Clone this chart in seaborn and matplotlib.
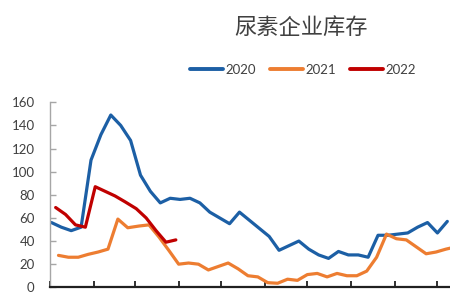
import matplotlib
matplotlib.use("Agg")
import matplotlib.pyplot as plt
import seaborn as sns
import pandas as pd

# ---- data ----
years = ["2020", "2021", "2022"]
start_dates = ["2020-01-02", "2021-01-07", "2022-01-05"]
stock_2020 = [56, 52, 49, 52, 110, 132, 149, 140, 127, 97, 83, 73, 77, 76, 77, 73, 65, 60, 55,
              65, 58, 51, 44, 32, 36, 40, 33, 28, 25, 31, 28, 28, 26, 45, 45, 46, 47, 52, 56, 47, 57]
stock_2021 = [27.6, 26, 26, 28.5, 30.5, 33, 59, 51.5, 53, 54, 43.6, 32, 20, 21, 20, 15, 18, 21, 16,
              10, 9, 4, 3.5, 7, 6, 11, 12, 9, 12, 10, 10, 14, 26, 46, 42, 41, 35, 29, 30.5, 33, 35]
stock_2022 = [69, 63, 54, 52, 87, 83, 79, 74, 68, 60, 49, 39, 41]
title = "尿素企业库存"
y_ticks = [0, 20, 40, 60, 80, 100, 120, 140, 160]
month_starts = ["2020-%02d-01" % m for m in range(1, 13)] + ["2021-01-01"]

series = [stock_2020, stock_2021, stock_2022]
colors = ["#1C5FA5", "#ED7D31", "#C00000"]

# ---- build long table: x = day of (common) year ----
base = pd.Timestamp("2020-01-01")
rows = []
for yr, sd, vals in zip(years, start_dates, series):
    dates = pd.date_range(sd, periods=len(vals), freq="7D")
    for d, v in zip(dates, vals):
        day = (d.replace(year=2020) - base).days
        rows.append({"day": day, "value": v, "year": yr})
df = pd.DataFrame(rows)

sns.set_theme(style="white")
plt.rcParams["font.family"] = ["Lato", "Noto Sans CJK SC", "DejaVu Sans"]

fig = plt.figure(figsize=(4.5, 3.0), dpi=100)
ax = fig.add_axes([50 / 450, 12.7 / 300, 517.5 / 450, 185 / 300])

sns.lineplot(data=df, x="day", y="value", hue="year", hue_order=years,
             palette=colors, linewidth=2.3, sort=False, ax=ax, legend=True)

handles, labels = ax.get_legend_handles_labels()
ax.get_legend().remove()

xt = [(pd.Timestamp(m) - base).days for m in month_starts]
ax.set_xlim(0, 366)
ax.set_ylim(0, 160)
ax.set_xticks(xt)
ax.set_yticks(y_ticks)
ax.set_xlabel("")
ax.set_ylabel("")

for s in ["top", "right"]:
    ax.spines[s].set_visible(False)
ax.spines["left"].set_color("#A6A6A6")
ax.spines["left"].set_linewidth(1.0)
ax.spines["bottom"].set_color("#202020")
ax.spines["bottom"].set_linewidth(1.6)

ax.tick_params(axis="y", direction="in", length=4, width=1.0, color="#A6A6A6",
               labelsize=9.5, labelcolor="#404040", pad=11, left=True)
ax.tick_params(axis="x", direction="in", length=4.5, width=1.3, color="#202020",
               labelbottom=False, bottom=True)

fig.text(301 / 450, 1 - 27 / 300, title, ha="center", va="center",
         fontsize=16, color="#404040", family=["Noto Sans CJK SC", "DejaVu Sans"])

fig.legend(handles, labels, loc="center", bbox_to_anchor=(303 / 450, 1 - 70 / 300),
           ncol=3, frameon=False, fontsize=9.5, handlelength=2.5, handletextpad=0.25,
           columnspacing=1.0, labelcolor="#404040")
for h in fig.legends[0].get_lines():
    h.set_linewidth(2.8)

fig.savefig("out.png", dpi=100)
